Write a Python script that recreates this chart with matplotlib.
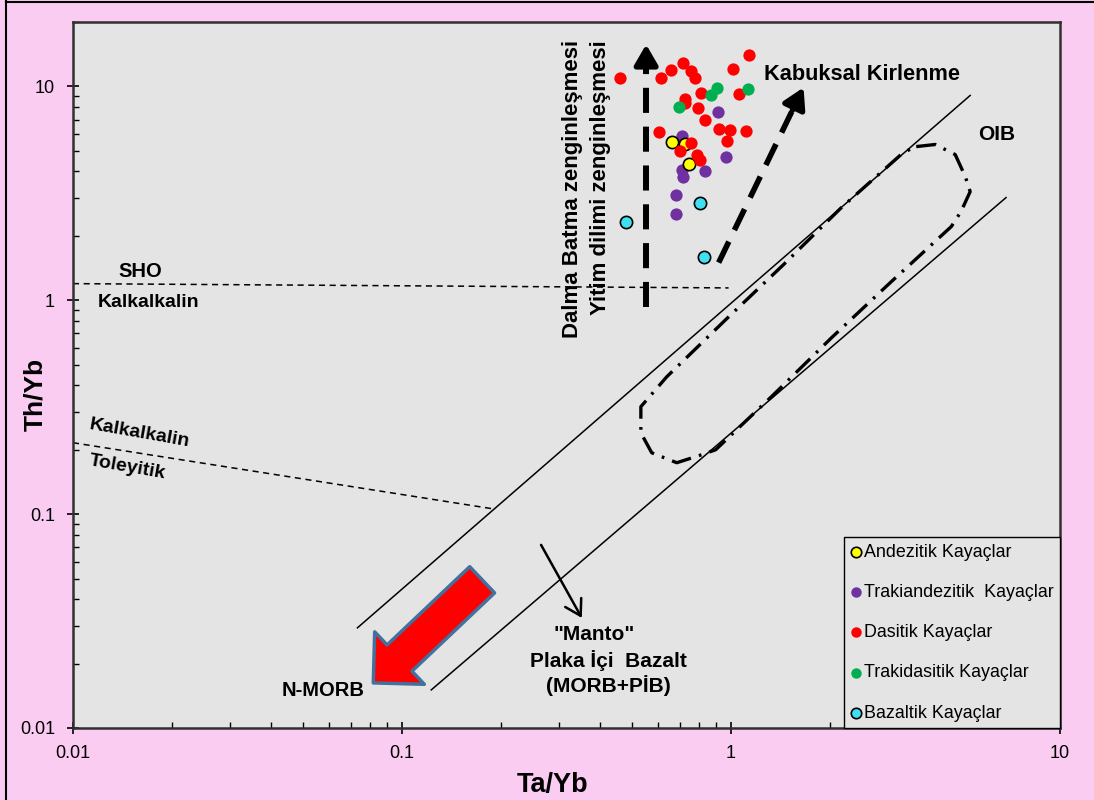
import matplotlib.pyplot as plt
from matplotlib.lines import Line2D
from matplotlib.ticker import FixedLocator, FixedFormatter, LogLocator, NullFormatter

plt.rcParams['font.family'] = ['Liberation Sans', 'DejaVu Sans']

# sample values (Ta/Yb, Th/Yb)
andezit_ta = [0.662, 0.722, 0.743]
andezit_th = [5.48, 5.40, 4.34]

trakiandezit_ta = [0.710, 0.911, 0.965, 0.710, 0.715, 0.833, 0.678, 0.680]
trakiandezit_th = [5.89, 7.61, 4.70, 4.08, 3.78, 4.04, 3.12, 2.54]

dasit_ta = [0.461, 0.613, 0.657, 0.713, 0.758, 0.779, 1.013, 1.137, 0.813, 0.722,
            0.724, 1.057, 0.793, 0.836, 0.603, 0.922, 0.995, 1.113, 0.756, 0.974,
            0.702, 0.788, 0.803]
dasit_th = [10.97, 10.97, 11.9, 12.9, 11.78, 10.97, 12.09, 14.0, 9.33, 8.75,
            8.32, 9.23, 7.94, 7.0, 6.13, 6.35, 6.28, 6.17, 5.45, 5.54,
            4.97, 4.80, 4.55]

trakidasit_ta = [0.906, 0.869, 0.697, 1.128]
trakidasit_th = [9.78, 9.09, 8.03, 9.73]

bazalt_ta = [0.478, 0.807, 0.827]
bazalt_th = [2.31, 2.85, 1.59]

# diagram boundaries
sho_ta = [0.01, 0.983]
sho_th = [1.196, 1.142]
tol_ta = [0.01, 0.188]
tol_th = [0.2157, 0.106]
array_up_ta = [0.0732, 5.33]
array_up_th = [0.0294, 9.07]
array_lo_ta = [0.1227, 6.85]
array_lo_th = [0.01507, 3.02]

oib_ta = [3.655, 4.174, 4.80, 5.15, 5.33, 5.00, 4.67, 3.07, 2.02, 1.346, 0.898,
          0.814, 0.684, 0.574, 0.532, 0.532, 0.638, 0.963, 1.444, 2.165, 3.34, 3.655]
oib_th = [5.23, 5.35, 4.80, 3.79, 3.22, 2.60, 2.21, 1.222, 0.668, 0.3617, 0.2,
          0.1895, 0.1739, 0.1936, 0.240, 0.318, 0.439, 0.811, 1.468, 2.713, 4.91, 5.23]

# trend arrows
subd_ta = [0.552, 0.552, 0.552]
subd_th = [0.933, 13.0, 15.7]
crust_ta = [0.917, 1.538, 1.661]
crust_th = [1.50, 7.76, 9.88]
manto_ta = [0.2646, 0.352]
manto_th = [0.0718, 0.0327]
morb_ta = [0.1752, 0.0818]
morb_th = [0.0493, 0.01625]

fig = plt.figure(figsize=(10.94, 8.0), dpi=100)
fig.patch.set_facecolor('#FACCF2')
ax = fig.add_axes([0.0667, 0.09, 0.9023, 0.8825])
ax.set_facecolor('#E4E4E4')
ax.set_xscale('log')
ax.set_yscale('log')
ax.set_xlim(0.01, 10)
ax.set_ylim(0.01, 20)

fig.add_artist(Line2D([0.0055, 0.0055], [0, 0.999], transform=fig.transFigure, color='k', lw=1.5))
fig.add_artist(Line2D([0.0055, 1], [0.998, 0.998], transform=fig.transFigure, color='k', lw=1.5))

# lines
ax.plot(sho_ta, sho_th, color='k', lw=1.1, dashes=(4, 3))
ax.plot(tol_ta, tol_th, color='k', lw=1.1, dashes=(4, 3))
ax.plot(array_up_ta, array_up_th, color='k', lw=1.1)
ax.plot(array_lo_ta, array_lo_th, color='k', lw=1.1)
ax.plot(oib_ta, oib_th, color='k', lw=2.4, dashes=(6, 2.5, 0.8, 2.5))

# dashed arrows
ax.plot(subd_ta[:2], subd_th[:2], color='k', lw=4.3, dashes=(4.2, 2.3))
ax.annotate('', xy=(subd_ta[2], subd_th[2]), xytext=(subd_ta[1], subd_th[1]),
            arrowprops=dict(arrowstyle='-|>,head_length=0.55,head_width=0.32',
                            color='k', lw=4, mutation_scale=22, shrinkA=0, shrinkB=0))
ax.plot(crust_ta[:2], crust_th[:2], color='k', lw=4.0, dashes=(4.2, 2.3))
ax.annotate('', xy=(crust_ta[2], crust_th[2]), xytext=(crust_ta[1], crust_th[1]),
            arrowprops=dict(arrowstyle='-|>,head_length=0.55,head_width=0.32',
                            color='k', lw=4, mutation_scale=22, shrinkA=0, shrinkB=0))
ax.annotate('', xy=(manto_ta[1], manto_th[1]), xytext=(manto_ta[0], manto_th[0]),
            arrowprops=dict(arrowstyle='->,head_length=0.5,head_width=0.3',
                            color='k', lw=1.8, mutation_scale=22, shrinkA=0, shrinkB=0))
ax.annotate('', xy=(morb_ta[1], morb_th[1]), xytext=(morb_ta[0], morb_th[0]),
            arrowprops=dict(arrowstyle='simple,head_length=1.0,head_width=2.0,tail_width=1.0',
                            fc='#FF0000', ec='#41719C', lw=2.5, mutation_scale=26,
                            shrinkA=0, shrinkB=0))

# samples
s = 78
p2 = ax.scatter(trakiandezit_ta, trakiandezit_th, s=s, c='#7030A0', lw=0, zorder=3,
                label='Trakiandezitik  Kayaçlar')
p1 = ax.scatter(andezit_ta, andezit_th, s=s, c='#FFFF00', edgecolors='k', lw=1.2, zorder=3,
                label='Andezitik Kayaçlar')
p3 = ax.scatter(dasit_ta, dasit_th, s=s, c='#FF0000', lw=0, zorder=3,
                label='Dasitik Kayaçlar')
p4 = ax.scatter(trakidasit_ta, trakidasit_th, s=s, c='#00B050', lw=0, zorder=3,
                label='Trakidasitik Kayaçlar')
p5 = ax.scatter(bazalt_ta, bazalt_th, s=s, c='#3FE0F2', edgecolors='k', lw=1.2, zorder=3,
                label='Bazaltik Kayaçlar')

leg = ax.legend(handles=[p1, p2, p3, p4, p5], loc='lower right', bbox_to_anchor=(1, 0),
                borderaxespad=0, fontsize=12.9, labelspacing=1.3, handletextpad=0.15,
                handlelength=0.6, borderpad=0.35, fancybox=False, edgecolor='k',
                facecolor='#E4E4E4', framealpha=1, markerscale=0.85)
leg.get_frame().set_linewidth(1.0)

# annotations
bold = dict(fontweight='bold', transform=ax.transAxes, ha='center', va='center')
ax.text(0.0679, 0.6459, 'SHO', fontsize=14.5, **bold)
ax.text(0.077, 0.602, 'Kalkalkalin', fontsize=14, **bold)
ax.text(0.0679, 0.4178, 'Kalkalkalin', fontsize=14, rotation=-10, **bold)
ax.text(0.0547, 0.3697, 'Toleyitik', fontsize=14, rotation=-10, **bold)
ax.text(0.5056, 0.9745, 'Dalma Batma zenginleşmesi', fontsize=16, fontweight='bold',
        rotation=90, ha='center', va='top', transform=ax.transAxes)
ax.text(0.534, 0.9745, 'Yitim dilimi zenginleşmesi', fontsize=16, fontweight='bold',
        rotation=90, ha='center', va='top', transform=ax.transAxes)
ax.text(0.7994, 0.9263, 'Kabuksal Kirlenme', fontsize=15.7, **bold)
ax.text(0.9362, 0.84, 'OIB', fontsize=15, **bold)
ax.text(0.2533, 0.0538, 'N-MORB', fontsize=14.5, **bold)
ax.text(0.528, 0.1331, '"Manto"', fontsize=15, **bold)
ax.text(0.542, 0.0949, 'Plaka İçi  Bazalt', fontsize=15, **bold)
ax.text(0.542, 0.0595, '(MORB+PİB)', fontsize=15, **bold)

# axes
ticks = [0.01, 0.1, 1, 10]
tick_labels = ['0.01', '0.1', '1', '10']
for axis in (ax.xaxis, ax.yaxis):
    axis.set_major_locator(FixedLocator(ticks))
    axis.set_major_formatter(FixedFormatter(tick_labels))
    axis.set_minor_locator(LogLocator(base=10, subs=range(2, 10)))
    axis.set_minor_formatter(NullFormatter())
ax.tick_params(which='major', direction='inout', length=8, width=1.2, labelsize=13, colors='k')
ax.tick_params(axis='y', which='major', pad=9)
ax.tick_params(axis='x', which='major', pad=8)
ax.tick_params(which='minor', direction='in', length=4, width=1.0)
for sp in ax.spines.values():
    sp.set_linewidth(1.8)
    sp.set_color('#303030')

ax.set_xlabel('Ta/Yb', fontsize=19.5, fontweight='bold')
ax.set_ylabel('Th/Yb', fontsize=19, fontweight='bold')
ax.xaxis.set_label_coords(0.486, -0.062)
ax.yaxis.set_label_coords(-0.026, 0.472)

fig.savefig('out.png', dpi=100, facecolor=fig.get_facecolor())
